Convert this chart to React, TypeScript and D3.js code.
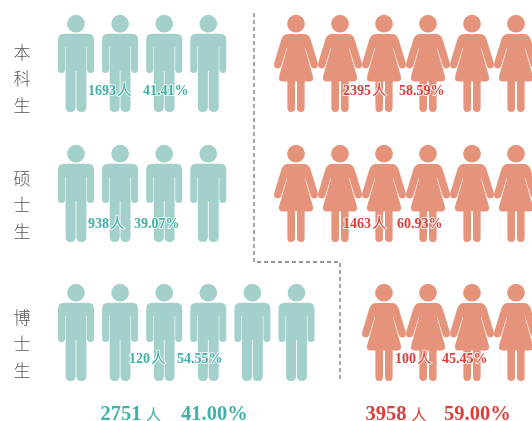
import React from "react";
import * as d3 from "d3";

const degrees = ["本科生", "硕士生", "博士生"];
const menIcons = [4, 4, 6];
const womenIcons = [6, 6, 4];
const womenStart = [0, 0, 2];
const menCounts = ["1693", "938", "120"];
const menShares = ["41.41%", "39.07%", "54.55%"];
const womenCounts = ["2395", "1463", "100"];
const womenShares = ["58.59%", "60.93%", "45.45%"];
const totals = { men: "2751", menShare: "41.00%", women: "3958", womenShare: "59.00%" };

const MAN = "#a3d0cb";
const WOMAN = "#e6937c";
const TEAL = "#3fb0a8";
const RED = "#d9403a";
const SERIF = "'Liberation Serif', 'Noto Sans CJK SC', serif";

const rowTop = d3.scaleOrdinal<number, number>().domain([0, 1, 2]).range([15, 145, 284]);
const menX = d3.scaleLinear().domain([0, 5]).range([76, 296.5]);
const womenX = d3.scaleLinear().domain([0, 5]).range([296, 516]);

function manPath() {
  const p = d3.path();
  p.moveTo(-12, 18.7);
  p.lineTo(12, 18.7);
  p.quadraticCurveTo(18, 18.7, 18, 25);
  p.lineTo(18, 54.5);
  p.quadraticCurveTo(18, 58, 14.7, 58);
  p.quadraticCurveTo(11, 58, 11, 54.5);
  p.lineTo(11, 32);
  p.lineTo(10.4, 32);
  p.lineTo(10.4, 92);
  p.quadraticCurveTo(10.4, 97, 5.5, 97);
  p.quadraticCurveTo(0.4, 97, 0.4, 92);
  p.lineTo(0.4, 56);
  p.lineTo(-0.4, 56);
  p.lineTo(-0.4, 92);
  p.quadraticCurveTo(-0.4, 97, -5.5, 97);
  p.quadraticCurveTo(-10.4, 97, -10.4, 92);
  p.lineTo(-10.4, 32);
  p.lineTo(-11, 32);
  p.lineTo(-11, 54.5);
  p.quadraticCurveTo(-11, 58, -14.7, 58);
  p.quadraticCurveTo(-18, 58, -18, 54.5);
  p.lineTo(-18, 25);
  p.quadraticCurveTo(-18, 18.7, -12, 18.7);
  p.closePath();
  return p.toString();
}

function womanPath() {
  const p = d3.path();
  p.moveTo(-8, 19);
  p.lineTo(8, 19);
  p.quadraticCurveTo(12.5, 19, 14.5, 24);
  p.lineTo(21.8, 48);
  p.quadraticCurveTo(22.8, 53, 18.5, 53.5);
  p.quadraticCurveTo(15.5, 53.5, 14.5, 50);
  p.lineTo(9.3, 33);
  p.lineTo(8.8, 33);
  p.lineTo(16.8, 61);
  p.quadraticCurveTo(18, 66, 14, 66.5);
  p.lineTo(8.6, 66.5);
  p.lineTo(8.6, 93);
  p.quadraticCurveTo(8.6, 97, 5, 97);
  p.quadraticCurveTo(1, 97, 1, 93);
  p.lineTo(1, 66.5);
  p.lineTo(-1, 66.5);
  p.lineTo(-1, 93);
  p.quadraticCurveTo(-1, 97, -5, 97);
  p.quadraticCurveTo(-8.6, 97, -8.6, 93);
  p.lineTo(-8.6, 66.5);
  p.lineTo(-14, 66.5);
  p.quadraticCurveTo(-18, 66, -16.8, 61);
  p.lineTo(-8.8, 33);
  p.lineTo(-9.3, 33);
  p.lineTo(-14.5, 50);
  p.quadraticCurveTo(-15.5, 53.5, -18.5, 53.5);
  p.quadraticCurveTo(-22.8, 53, -21.8, 48);
  p.lineTo(-14.5, 24);
  p.quadraticCurveTo(-12.5, 19, -8, 19);
  p.closePath();
  return p.toString();
}

const manD = manPath();
const womanD = womanPath();

function Label({ x, y, size, color, children }: any) {
  return (
    <text x={x} y={y} fontSize={size} fontWeight="bold" fontFamily={SERIF} fill={color}
      stroke="#fff" strokeWidth={size > 16 ? 0 : 2} strokeOpacity={0.8} paintOrder="stroke">
      {children}
    </text>
  );
}

function Ren({ x, y, size, color }: any) {
  return (
    <text x={x} y={y} fontSize={size} fontWeight={400} fontFamily="'Noto Sans CJK SC'" fill={color}
      stroke="#fff" strokeWidth={size > 14.6 ? 0 : 2} strokeOpacity={0.8} paintOrder="stroke">人</text>
  );
}

const menLabelX = [[88, 143], [88, 134], [129, 177]];
const womenLabelX = [[343, 399], [343, 397], [395, 442]];
const labelBase = [95, 228, 363];
const degreeFirstY = [59, 185, 324];

export default function App() {
  const dash = d3.line()([[254, 13], [254, 262], [340, 262], [340, 382]]) as string;
  return (
    <svg width={532} height={421} style={{ position: "absolute", left: 0, top: 0, background: "#fff" }}>
      <defs>
        <filter id="soft" x="0" y="0" width="100%" height="100%">
          <feGaussianBlur stdDeviation={0.35} />
        </filter>
      </defs>
      <g filter="url(#soft)">
        <rect width={532} height={421} fill="#fff" />
        <path d={dash} fill="none" stroke="#777" strokeWidth={1.3} strokeDasharray="4 3" />
        {degrees.map((deg, r) => {
          const top = rowTop(r);
          return (
            <g key={deg}>
              {Array.from(deg).map((c, i) => (
                <text key={i} x={22} y={degreeFirstY[r] + i * 26.3} textAnchor="middle" fontSize={17} fontWeight={300}
                  fontFamily="'Noto Sans CJK SC'" fill="#555">{c}</text>
              ))}
              {d3.range(menIcons[r]).map((i) => (
                <g key={i} transform={`translate(${menX(i)},${top})`} fill={MAN}>
                  <circle cx={0} cy={8.7} r={8.9} />
                  <path d={manD} />
                </g>
              ))}
              {d3.range(womenIcons[r]).map((i) => (
                <g key={i} transform={`translate(${womenX(i + womenStart[r])},${top})`} fill={WOMAN}>
                  <circle cx={0} cy={8.7} r={8.9} />
                  <path d={womanD} />
                </g>
              ))}
              <Label x={menLabelX[r][0]} y={labelBase[r]} size={14} color={TEAL}>{menCounts[r]}</Label>
              <Ren x={menLabelX[r][0] + menCounts[r].length * 7 + 1} y={labelBase[r]} size={14.5} color={TEAL} />
              <Label x={menLabelX[r][1]} y={labelBase[r]} size={14} color={TEAL}>{menShares[r]}</Label>
              <Label x={womenLabelX[r][0]} y={labelBase[r]} size={14} color={RED}>{womenCounts[r]}</Label>
              <Ren x={womenLabelX[r][0] + womenCounts[r].length * 7 + 1} y={labelBase[r]} size={14.5} color={RED} />
              <Label x={womenLabelX[r][1]} y={labelBase[r]} size={14} color={RED}>{womenShares[r]}</Label>
            </g>
          );
        })}
        <Label x={100.5} y={419.5} size={20.5} color={TEAL}>{totals.men}</Label>
        <Ren x={146} y={419.5} size={15} color={TEAL} />
        <Label x={181} y={419.5} size={20.5} color={TEAL}>{totals.menShare}</Label>
        <Label x={365.5} y={419.5} size={20.5} color={RED}>{totals.women}</Label>
        <Ren x={411.5} y={419.5} size={15} color={RED} />
        <Label x={444} y={419.5} size={20.5} color={RED}>{totals.womenShare}</Label>
      </g>
    </svg>
  );
}
